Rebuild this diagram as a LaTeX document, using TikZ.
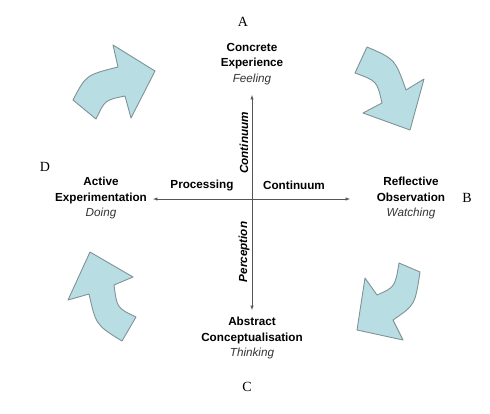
\documentclass[tikz,border=0pt]{standalone}
\usepackage{fontspec}
\setmainfont{Liberation Serif}
\setsansfont{Liberation Sans}
\usepackage{tikz}
\pgfdeclarelayer{edgelayer}
\pgfdeclarelayer{nodelayer}
\pgfsetlayers{edgelayer,nodelayer,main}
\definecolor{arrowfill}{RGB}{184,222,227}
\definecolor{arrowline}{RGB}{128,146,150}
\definecolor{axisgray}{RGB}{85,85,85}
\tikzstyle{block_arrow}=[fill=arrowfill,draw=arrowline,line width=0.9pt,line join=round]
\tikzstyle{axis_line}=[latex-latex,draw=axisgray,line width=0.5pt]
\tikzstyle{stage}=[align=center,font=\sffamily\fontsize{11.7}{15.5}\selectfont\bfseries,inner sep=0pt]
\tikzstyle{axis_label}=[font=\sffamily\fontsize{11.7}{14}\selectfont\bfseries,inner sep=0pt]
\tikzstyle{corner_letter}=[font=\fontsize{14}{16}\selectfont,inner sep=0pt]
\newcommand{\mode}[1]{{\mdseries\itshape\color{black!80}#1}}

\begin{document}
\begin{tikzpicture}[x=1pt,y=-1pt]
	\useasboundingbox (0,0) rectangle (490,413);
	\begin{pgfonlayer}{nodelayer}
		\coordinate (0) at (252,199);
		\coordinate (1) at (252,95);
		\coordinate (2) at (350,199);
		\coordinate (3) at (252,310);
		\coordinate (4) at (153,199);
		\node [style=stage] (concrete) at (252,64) {Concrete\\Experience\\\mode{Feeling}};
		\node [style=stage] (reflective) at (411,198) {Reflective\\Observation\\\mode{Watching}};
		\node [style=stage] (abstract) at (252,338) {Abstract\\Conceptualisation\\\mode{Thinking}};
		\node [style=stage] (active) at (101,198) {Active\\Experimentation\\\mode{Doing}};
		\node [style={corner_letter}] (A) at (243,22) {A};
		\node [style={corner_letter}] (B) at (467,198) {B};
		\node [style={corner_letter}] (C) at (247,387) {C};
		\node [style={corner_letter}] (D) at (45,167) {D};
		\node [style={axis_label}] (processing) at (202,185) {Processing};
		\node [style={axis_label}] (continuum) at (294,185) {Continuum};
		\node [style={axis_label}, rotate=90] (vcontinuum) at (244,143) {\itshape Continuum};
		\node [style={axis_label}, rotate=90] (perception) at (244,252) {\itshape Perception};
	\end{pgfonlayer}
	\begin{pgfonlayer}{edgelayer}
		\draw [style={axis_line}] (4) to (2);
		\draw [style={axis_line}] (3) to (1);
		% the four curved arrows of the cycle
		\draw [style={block_arrow}] (73,100) .. controls (86,75) .. (118,67) -- (113,45) -- (155,71)
			-- (131,118) -- (125,96) .. controls (105,100) .. (96,119) -- cycle;
		\draw [style={block_arrow}] (367,47) .. controls (395,59) .. (406,90) -- (424,79) -- (410,130)
			-- (363,113) -- (382,103) .. controls (377,81) .. (355,73) -- cycle;
		\draw [style={block_arrow}] (420,272) .. controls (415,305) .. (393,320) -- (403,340) -- (357,330)
			-- (365,278) -- (377,295) .. controls (395,287) .. (399,263) -- cycle;
		\draw [style={block_arrow}] (122,341) .. controls (96,325) .. (89,294) -- (68,300) -- (90,252)
			-- (133,277) -- (114,285) .. controls (117,308) .. (136,317) -- cycle;
	\end{pgfonlayer}
\end{tikzpicture}
\end{document}
